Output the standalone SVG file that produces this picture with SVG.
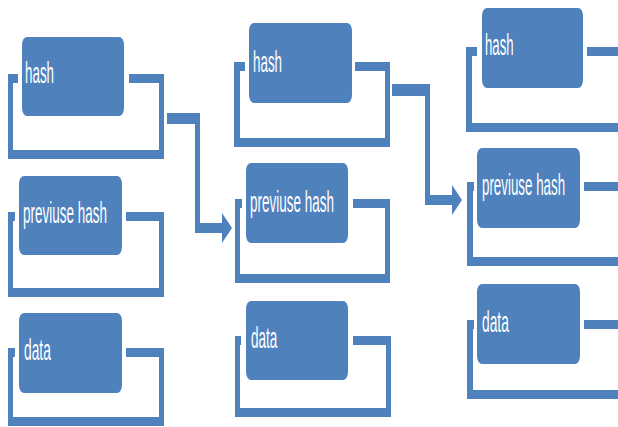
<svg xmlns="http://www.w3.org/2000/svg" width="618" height="427" viewBox="0 0 618 427">
<style>
.fr{fill:#4F81BD}
.bx{fill:#4F81BD}
.cn{fill:#4F81BD}
.tx{fill:#FFFFFF;font-family:"Liberation Sans",Arial,sans-serif;font-size:30px}
</style>
<defs>
<path id="ah" d="M0,-15 L10,0 L0,15 Z" fill="#4F81BD"/>
</defs>
<rect width="618" height="427" fill="#FFFFFF"/>

<g id="c1-hash">
<path class="fr" d="M8,74 H18 V83 H13 V150 H159 V83 H129 V74 H164 V159 H8 Z"/>
<rect class="bx" x="22" y="37" width="102" height="79" rx="5" ry="8"/>
<text class="tx" transform="translate(25,83) scale(0.446,1)">hash</text>
</g>
<g id="c1-prev">
<path class="fr" d="M8,212 H15 V221 H13 V288 H159 V221 H126 V212 H164 V297 H8 Z"/>
<rect class="bx" x="19" y="176" width="103" height="79" rx="5" ry="8"/>
<text class="tx" transform="translate(23,223) scale(0.45,1)">previuse hash</text>
</g>
<g id="c1-data">
<path class="fr" d="M8,348 H15 V357 H13 V417 H159 V357 H126 V348 H164 V426 H8 Z"/>
<rect class="bx" x="19" y="313" width="103" height="80" rx="5" ry="8"/>
<text class="tx" transform="translate(24,360) scale(0.46,1)">data</text>
</g>

<g id="c2-hash">
<path class="fr" d="M234,62 H245 V71 H240 V138 H385 V71 H355 V62 H390 V147 H234 Z"/>
<rect class="bx" x="249" y="23" width="103" height="80" rx="5" ry="8"/>
<text class="tx" transform="translate(253,72) scale(0.446,1)">hash</text>
</g>
<g id="c2-prev">
<path class="fr" d="M235,199 H242 V208 H240 V274 H385 V208 H353 V199 H390 V283 H235 Z"/>
<rect class="bx" x="246" y="163" width="102" height="80" rx="5" ry="8"/>
<text class="tx" transform="translate(250,212) scale(0.45,1)">previuse hash</text>
</g>
<g id="c2-data">
<path class="fr" d="M235,336 H241 V345 H240 V408 H386 V345 H353 V336 H391 V417 H235 Z"/>
<rect class="bx" x="246" y="301" width="102" height="79" rx="5" ry="8"/>
<text class="tx" transform="translate(251,348) scale(0.45,1)">data</text>
</g>

<g id="c3-hash">
<path class="fr" d="M466,47 H477 V56 H472 V123 H625 V56 H587 V47 H630 V132 H466 Z"/>
<rect class="bx" x="482" y="8" width="101" height="80" rx="5" ry="8"/>
<text class="tx" transform="translate(485,55) scale(0.44,1)">hash</text>
</g>
<g id="c3-prev">
<path class="fr" d="M467,182 H474 V191 H473 V257 H625 V191 H584 V182 H630 V266 H467 Z"/>
<rect class="bx" x="477" y="148" width="103" height="80" rx="5" ry="8"/>
<text class="tx" transform="translate(482,195) scale(0.445,1)">previuse hash</text>
</g>
<g id="c3-data">
<path class="fr" d="M467,320 H474 V329 H473 V390 H625 V329 H584 V320 H630 V399 H467 Z"/>
<rect class="bx" x="477" y="284" width="103" height="80" rx="5" ry="8"/>
<text class="tx" transform="translate(482,332) scale(0.46,1)">data</text>
</g>

<g id="connectors">
<path class="cn" d="M167,113 H200 V223 H223 V233 H195 V124 H167 Z"/>
<use href="#ah" x="222" y="228"/>
<path class="cn" d="M392,84 H430 V195 H453 V205 H425 V96 H392 Z"/>
<use href="#ah" x="452" y="200"/>
</g>
</svg>
